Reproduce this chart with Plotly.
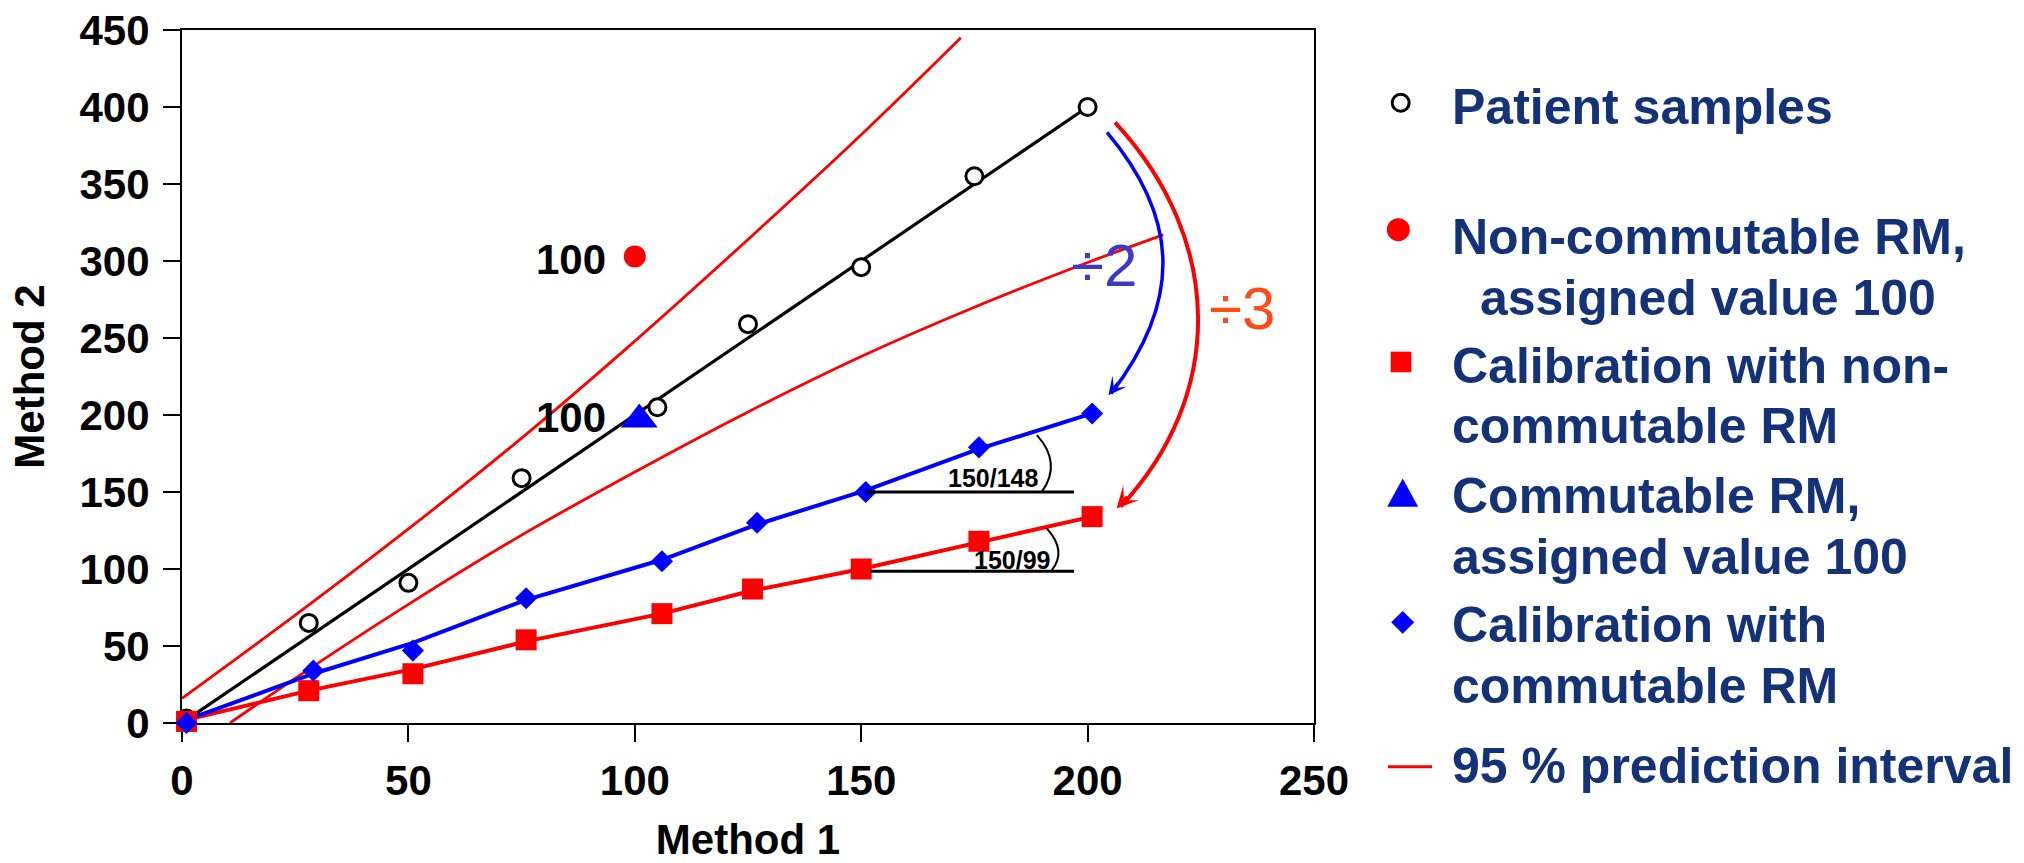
import plotly.graph_objects as go

# ---------------- data ----------------
patient_x = [1, 28, 50, 75, 105, 125, 150, 175, 200]
patient_y = [3, 65, 91, 159, 205, 259, 296, 355, 400]
patient_fit_x = [1, 28, 50, 75, 105, 125, 150, 175, 200]
patient_fit_y = [2, 56, 100, 150, 210, 250, 300, 350, 400]

noncomm_cal_x = [1, 28, 51, 76, 106, 126, 150, 176, 201]
noncomm_cal_y = [1, 21, 32, 54, 71, 87, 100, 118, 134]
noncomm_fit_y = [2, 21, 35, 53, 71, 86, 100, 117, 134]

comm_cal_x = [1, 29, 51, 76, 106, 127, 151, 176, 201]
comm_cal_y = [0, 34, 47, 81, 105, 130, 150, 179, 201]
comm_fit_y = [2, 32, 52, 80, 106, 129, 151, 178, 201]

noncomm_rm_x = [100]
noncomm_rm_y = [303]
comm_rm_x = [101]
comm_rm_y = [197]

pi_upper_x = [0, 25, 50, 75, 100, 125, 150, 172]
pi_upper_y = [16, 70, 126, 185, 248, 314, 382, 445]
pi_lower_x = [10.6, 25, 50, 75, 100, 125, 150, 175, 200, 216.7]
pi_lower_y = [0, 29, 77, 122, 163, 202, 238, 270, 299, 317]

x_ticks = [0, 50, 100, 150, 200, 250]
y_ticks = [0, 50, 100, 150, 200, 250, 300, 350, 400, 450]

legend_labels = [
    ["Patient samples"],
    ["Non-commutable RM,", "  assigned value 100"],
    ["Calibration with non-", "commutable RM"],
    ["Commutable RM,", "assigned value 100"],
    ["Calibration with", "commutable RM"],
    ["95 % prediction interval"],
]

# ---------------- layout geometry (pixels) ----------------
W, H = 2024, 863
L, R, T, B = 182, 1314, 29.5, 723
PW, PH = R - L, B - T

RED = "#FF0000"
BLUE = "#0000FF"
NAVY = "#143278"
FONT = "Liberation Sans, Arial, sans-serif"


def px(x):
    return (x - L) / PW


def py(y):
    return (B - y) / PH


fig = go.Figure()

# prediction interval lines
fig.add_trace(go.Scatter(x=pi_upper_x, y=pi_upper_y, mode="lines",
                         line=dict(color=RED, width=2.8, shape="spline"), showlegend=False))
fig.add_trace(go.Scatter(x=pi_lower_x, y=pi_lower_y, mode="lines",
                         line=dict(color=RED, width=2.8, shape="spline"), showlegend=False))
# fitted lines
fig.add_trace(go.Scatter(x=patient_fit_x, y=patient_fit_y, mode="lines",
                         line=dict(color="black", width=3.2), showlegend=False))
fig.add_trace(go.Scatter(x=noncomm_cal_x, y=noncomm_fit_y, mode="lines",
                         line=dict(color=RED, width=4), showlegend=False))
fig.add_trace(go.Scatter(x=comm_cal_x, y=comm_fit_y, mode="lines",
                         line=dict(color=BLUE, width=4), showlegend=False))
# markers
fig.add_trace(go.Scatter(x=patient_x, y=patient_y, mode="markers", cliponaxis=False,
                         marker=dict(symbol="circle", size=17, color="white",
                                     line=dict(color="black", width=3)),
                         name="Patient samples", showlegend=False))
fig.add_trace(go.Scatter(x=noncomm_cal_x, y=noncomm_cal_y, mode="markers", cliponaxis=False,
                         marker=dict(symbol="square", size=21, color=RED, line=dict(width=0)),
                         name="Calibration with non-commutable RM", showlegend=False))
fig.add_trace(go.Scatter(x=comm_cal_x, y=comm_cal_y, mode="markers", cliponaxis=False,
                         marker=dict(symbol="diamond", size=17, color=BLUE, line=dict(width=0)),
                         name="Calibration with commutable RM", showlegend=False))
fig.add_trace(go.Scatter(x=noncomm_rm_x, y=noncomm_rm_y, mode="markers",
                         marker=dict(symbol="circle", size=22, color=RED, line=dict(width=0)),
                         name="Non-commutable RM", showlegend=False))
fig.add_trace(go.Scatter(x=comm_rm_x, y=comm_rm_y, mode="markers",
                         marker=dict(symbol="triangle-up", size=32, color=BLUE, line=dict(width=0)),
                         name="Commutable RM", showlegend=False))

shapes = []
annotations = []

# angle indicators
shapes.append(dict(type="line", xref="x", yref="y", x0=151, y0=150, x1=197, y1=150,
                   line=dict(color="black", width=3)))
shapes.append(dict(type="path", xref="x", yref="y",
                   path="M188.8,186.9 Q194.4,168.7 189.9,150.1",
                   line=dict(color="black", width=2)))
shapes.append(dict(type="line", xref="x", yref="y", x0=152, y0=98.6, x1=197, y1=98.6,
                   line=dict(color="black", width=3)))
shapes.append(dict(type="path", xref="x", yref="y",
                   path="M191,126.3 Q195.5,111.7 192.1,99.3",
                   line=dict(color="black", width=2)))
annotations.append(dict(x=179.1, y=159, xref="x", yref="y", text="150/148", showarrow=False,
                        font=dict(family=FONT, size=25, color="black", weight="bold")))
annotations.append(dict(x=183.3, y=105.8, xref="x", yref="y", text="150/99", showarrow=False,
                        font=dict(family=FONT, size=25, color="black", weight="bold")))

# curved arrows
shapes.append(dict(type="path", xref="x", yref="y",
                   path="M204.3,383.5 C220.6,326.4 220.6,273.2 205.2,214",
                   line=dict(color=BLUE, width=3.5)))
shapes.append(dict(type="path", xref="x", yref="y",
                   path="M206.05,390 C230.3,313 230.3,212.8 207.3,140.5",
                   line=dict(color=RED, width=4)))
annotations.append(dict(x=204.6, y=212.8, xref="x", yref="y", text="", showarrow=True,
                        ax=11, ay=-14, arrowhead=3, arrowsize=1, arrowwidth=3, arrowcolor=BLUE))
annotations.append(dict(x=206.4, y=139.3, xref="x", yref="y", text="", showarrow=True,
                        ax=12, ay=-13, arrowhead=3, arrowsize=0.9, arrowwidth=4, arrowcolor=RED))
annotations.append(dict(x=203.6, y=297.2, xref="x", yref="y", text="÷2", showarrow=False,
                        font=dict(family=FONT, size=60, color="#3A3AC8")))
annotations.append(dict(x=234.1, y=269.1, xref="x", yref="y", text="÷3", showarrow=False,
                        font=dict(family=FONT, size=60, color="#FF4A14")))

# "100" labels
annotations.append(dict(x=94.1, y=301.2, xref="x", yref="y", text="100", showarrow=False,
                        xanchor="right",
                        font=dict(family=FONT, size=42, color="black", weight="bold")))
annotations.append(dict(x=94.1, y=198.2, xref="x", yref="y", text="100", showarrow=False,
                        xanchor="right",
                        font=dict(family=FONT, size=42, color="black", weight="bold")))

# ---------------- legend (drawn manually) ----------------
# open circle
cx, cy, r = 1400.7, 102.3, 8.5
shapes.append(dict(type="circle", xref="paper", yref="paper",
                   x0=px(cx - r), x1=px(cx + r), y0=py(cy + r), y1=py(cy - r),
                   fillcolor="white", line=dict(color="black", width=3)))
# red dot
cx, cy, r = 1398.3, 229.3, 11.5
shapes.append(dict(type="circle", xref="paper", yref="paper",
                   x0=px(cx - r), x1=px(cx + r), y0=py(cy + r), y1=py(cy - r),
                   fillcolor=RED, line=dict(width=0)))
# red square
cx, cy, r = 1401, 361.7, 10.3
shapes.append(dict(type="rect", xref="paper", yref="paper",
                   x0=px(cx - r), x1=px(cx + r), y0=py(cy + r), y1=py(cy - r),
                   fillcolor=RED, line=dict(width=0)))
# blue triangle
tx, ttop, tbot, hw = 1402.7, 478.3, 506.7, 15.5
shapes.append(dict(type="path", xref="paper", yref="paper",
                   path=f"M{px(tx - hw)},{py(tbot)} L{px(tx + hw)},{py(tbot)} L{px(tx)},{py(ttop)} Z",
                   fillcolor=BLUE, line=dict(width=0)))
# blue diamond
cx, cy, r = 1402.7, 622.3, 11.5
shapes.append(dict(type="path", xref="paper", yref="paper",
                   path=f"M{px(cx - r)},{py(cy)} L{px(cx)},{py(cy - r)} L{px(cx + r)},{py(cy)} L{px(cx)},{py(cy + r)} Z",
                   fillcolor=BLUE, line=dict(width=0)))
# red line
shapes.append(dict(type="line", xref="paper", yref="paper",
                   x0=px(1388), x1=px(1432), y0=py(766.7), y1=py(766.7),
                   line=dict(color=RED, width=3)))

legend_line_y = [[106.5], [236.5, 297.5], [365.8, 425.8], [495.8, 556.8], [625.2, 685.8], [765.8]]
for lines, ys in zip(legend_labels, legend_line_y):
    for txt, yy in zip(lines, ys):
        indent = 0
        if txt.startswith("  "):
            txt = txt.strip()
            indent = 28
        annotations.append(dict(x=px(1450 + indent), y=py(yy), xref="paper", yref="paper",
                                text=txt, showarrow=False, xanchor="left", yanchor="middle",
                                font=dict(family=FONT, size=50, color=NAVY, weight="bold")))

axis_common = dict(
    showgrid=False, zeroline=False, showline=True, linecolor="black", linewidth=2,
    mirror=True, ticks="outside", ticklen=17, tickwidth=2, tickcolor="black",
    tickfont=dict(family=FONT, size=42, color="black", weight="bold"),
    layer="below traces", automargin=False,
)

fig.update_layout(
    width=W, height=H,
    margin=dict(l=L, r=W - R, t=T, b=H - B, pad=0, autoexpand=False),
    paper_bgcolor="white", plot_bgcolor="white",
    showlegend=False,
    shapes=shapes, annotations=annotations,
    xaxis=dict(range=[0, 250], tickvals=x_ticks, ticklabelstandoff=3,
               title=dict(text="Method 1", standoff=38,
                          font=dict(family=FONT, size=42, color="black", weight="bold")),
               **axis_common),
    yaxis=dict(range=[0, 450], tickvals=y_ticks, ticklabelstandoff=5,
               title=dict(text="Method 2", standoff=22,
                          font=dict(family=FONT, size=42, color="black", weight="bold")),
               **axis_common),
)

fig.write_html("out.html")
